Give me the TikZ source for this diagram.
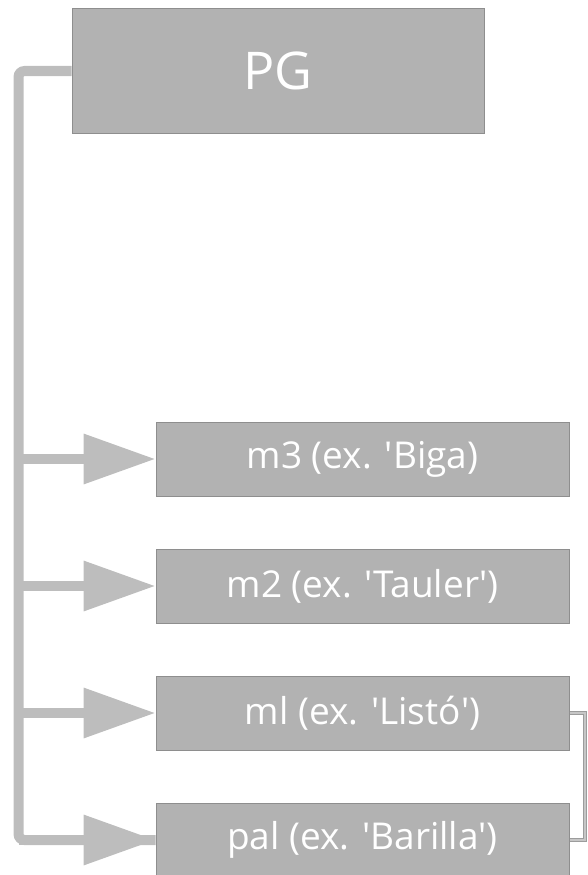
\documentclass[tikz,border=0pt]{standalone}
\usepackage{fontspec}
\setmainfont{Open Sans}
\usetikzlibrary{arrows.meta}
\definecolor{boxfill}{HTML}{B2B2B2}
\definecolor{boxedge}{HTML}{8E8E8E}
\definecolor{linecol}{HTML}{BDBDBD}
\definecolor{thinedge}{HTML}{9C9C9C}
\definecolor{thinfill}{HTML}{C6C6C6}
\newcommand{\sq}{\textquotesingle}
\begin{document}
\begin{tikzpicture}[x=1pt,y=-1pt,
  rootbox/.style={draw=boxedge,fill=boxfill,line width=1pt,minimum width=412pt,minimum height=124pt,inner sep=0pt,text=white,font=\fontsize{52}{60}\selectfont},
  childbox/.style={draw=boxedge,fill=boxfill,line width=1pt,minimum width=413pt,minimum height=74pt,inner sep=0pt,text=white,font=\fontsize{37}{44}\selectfont},
  trunk/.style={draw=linecol,line width=10pt,rounded corners=6pt},
  branch/.style={draw=linecol,line width=10pt,-{Triangle[length=72pt,width=48pt]}},
  link/.style={draw=thinedge,line width=0.8pt,double=thinfill,double distance=2.4pt}
]
\useasboundingbox (0,0) rectangle (588,875);
\node[rootbox] (PG) at (278,71) {PG};
\node[childbox] (m3) at (362.5,459) {m3 (ex. \sq Biga)};
\node[childbox] (m2) at (362.5,586) {m2 (ex. \sq Tauler\sq)};
\node[childbox] (ml) at (362.5,713) {ml (ex. \sq Listó\sq)};
\node[childbox] (pal) at (362.5,840) {pal (ex. \sq Barilla\sq)};
\coordinate (t3) at (18.5,459);
\coordinate (t2) at (18.5,586);
\coordinate (tl) at (18.5,713);
\coordinate (tp) at (18.5,840);
\coordinate (rr) at (585,713);
\draw[trunk] (PG.west) -| (tp) -- (pal.west);
\draw[branch] (tp) -- (pal.west);
\draw[branch] (t3) -- (m3.west);
\draw[branch] (t2) -- (m2.west);
\draw[branch] (tl) -- (ml.west);
\draw[link] (ml.east) -- (rr) |- (pal.east);
\end{tikzpicture}
\end{document}
